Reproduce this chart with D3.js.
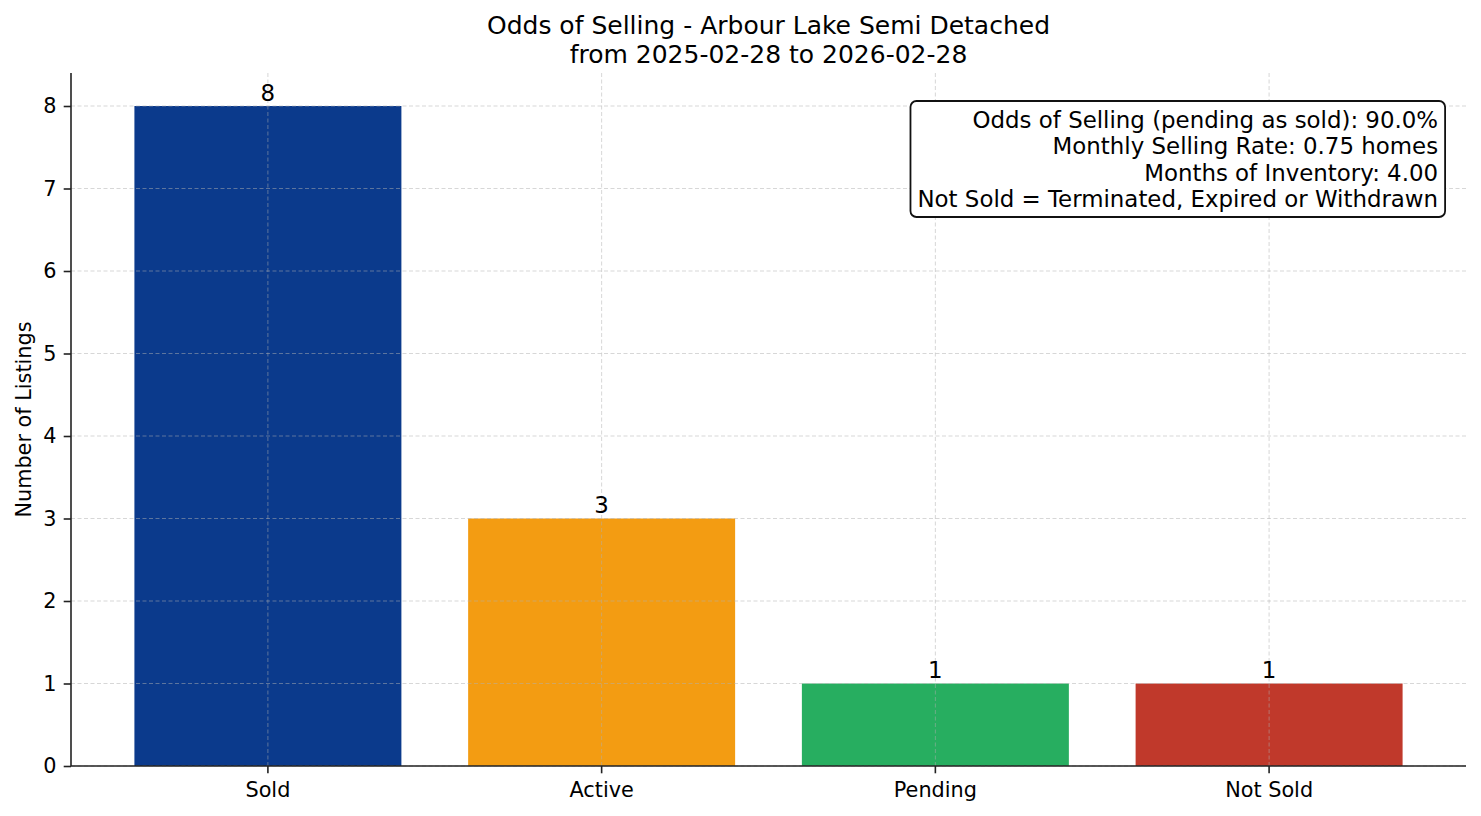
<!DOCTYPE html>
<html>
<head>
<meta charset="utf-8">
<script src="https://cdn.jsdelivr.net/npm/d3@7"></script>
<style>
  body { margin: 0; background: #fff; }
  svg text { font-family: "DejaVu Sans", sans-serif; fill: #000; }
</style>
</head>
<body>
<div id="chart"></div>
<script>
// chart data
var categories = ["Sold", "Active", "Pending", "Not Sold"];
var counts     = [8, 3, 1, 1];
var barColors  = ["#0b3a8c", "#f39c12", "#27ae60", "#c0392b"];
var yTicks     = [0, 1, 2, 3, 4, 5, 6, 7, 8];
var titleLines = ["Odds of Selling - Arbour Lake Semi Detached", "from 2025-02-28 to 2026-02-28"];
var noteLines  = [
  "Odds of Selling (pending as sold): 90.0%",
  "Monthly Selling Rate: 0.75 homes",
  "Months of Inventory: 4.00",
  "Not Sold = Terminated, Expired or Withdrawn"
];

var W = 1481, H = 816;
var margin = {top: 73, right: 15, bottom: 50, left: 71};
var width = W - margin.left - margin.right,
    height = H - margin.top - margin.bottom;

var svg = d3.select("#chart").append("svg")
  .attr("width", W)
  .attr("height", H);

var g = svg.append("g")
  .attr("transform", "translate(" + margin.left + "," + margin.top + ")");

// Scales (matplotlib-like 5% margins)
var x = d3.scaleBand()
  .domain(categories)
  .range([0, width])
  .paddingInner(0.2)
  .paddingOuter(0.19);

var y = d3.scaleLinear()
  .domain([0, 8.4])
  .range([height, 0]);

// Bars
g.selectAll(".bar")
  .data(categories)
  .enter().append("rect")
  .attr("class", "bar")
  .attr("x", function(d) { return x(d); })
  .attr("y", function(d, i) { return y(counts[i]); })
  .attr("width", x.bandwidth())
  .attr("height", function(d, i) { return height - y(counts[i]); })
  .attr("fill", function(d, i) { return barColors[i]; });

// Grid (drawn over bars, like the source)
var grid = g.append("g").attr("class", "grid");
grid.selectAll(".hgrid")
  .data(yTicks)
  .enter().append("line")
  .attr("x1", 0).attr("x2", width)
  .attr("y1", function(d) { return y(d); })
  .attr("y2", function(d) { return y(d); });
grid.selectAll(".vgrid")
  .data(categories)
  .enter().append("line")
  .attr("x1", function(d) { return x(d) + x.bandwidth() / 2; })
  .attr("x2", function(d) { return x(d) + x.bandwidth() / 2; })
  .attr("y1", 0).attr("y2", height);
grid.selectAll("line")
  .attr("stroke", "#b0b0b0")
  .attr("stroke-opacity", 0.5)
  .attr("stroke-width", 1)
  .attr("stroke-dasharray", "4,2.5");

// Value labels
g.selectAll(".val")
  .data(categories)
  .enter().append("text")
  .attr("class", "val")
  .attr("x", function(d) { return x(d) + x.bandwidth() / 2; })
  .attr("y", function(d, i) { return y(counts[i]) - 5.5; })
  .attr("text-anchor", "middle")
  .style("font-size", "22.9px")
  .text(function(d, i) { return counts[i]; });

// Axes
var xAxis = d3.axisBottom(x).tickSize(7.3).tickPadding(9);
var yAxis = d3.axisLeft(y).tickValues(yTicks).tickSize(7.3).tickPadding(7.3);

var gx = g.append("g")
  .attr("class", "axis x-axis")
  .attr("transform", "translate(0," + height + ")")
  .call(xAxis);

var gy = g.append("g")
  .attr("class", "axis y-axis")
  .call(yAxis);

gy.select(".domain").attr("d", "M0," + height + "V0");
gx.select(".domain").attr("d", "M0,0H" + width);

g.selectAll(".axis .domain, .axis .tick line")
  .attr("stroke", "#222")
  .attr("stroke-width", 1.6);
g.selectAll(".axis text")
  .style("font-family", "DejaVu Sans, sans-serif")
  .style("font-size", "20.8px")
  .attr("fill", "#000");

// Axis label
svg.append("text")
  .attr("text-anchor", "middle")
  .attr("transform", "translate(31," + (margin.top + height / 2) + ")rotate(-90)")
  .style("font-size", "20.8px")
  .text("Number of Listings");

// Title
svg.selectAll(".title")
  .data(titleLines)
  .enter().append("text")
  .attr("class", "title")
  .attr("x", margin.left + width / 2)
  .attr("y", function(d, i) { return 34 + i * 28.5; })
  .attr("text-anchor", "middle")
  .style("font-size", "25px")
  .text(function(d) { return d; });

// Annotation box
var note = g.append("g").attr("class", "note");
var noteX = width * 0.98;
note.selectAll("text")
  .data(noteLines)
  .enter().append("text")
  .attr("x", noteX)
  .attr("y", function(d, i) { return 128 - margin.top + i * 26.4; })
  .attr("text-anchor", "end")
  .style("font-size", "22.9px")
  .text(function(d) { return d; });

var bb = note.node().getBBox();
var pad = 7;
note.insert("rect", "text")
  .attr("x", bb.x - pad)
  .attr("y", 101 - margin.top)
  .attr("width", noteX - bb.x + 2 * pad)
  .attr("height", 116)
  .attr("rx", 6)
  .attr("fill", "#fff")
  .attr("stroke", "#111")
  .attr("stroke-width", 1.8);
</script>
</body>
</html>
